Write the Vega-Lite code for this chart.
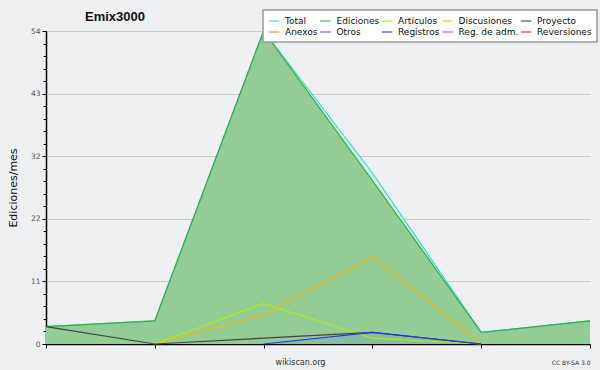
{
  "$schema": "https://vega.github.io/schema/vega-lite/v6.json",
  "autosize": "none",
  "width": 544,
  "height": 313,
  "padding": {"left": 46, "top": 31, "right": 10, "bottom": 26},
  "background": "#eeeff1",
  "title": {"text": "Emix3000", "font": "Liberation Sans", "fontSize": 13, "fontWeight": "bold", "anchor": "start", "frame": "group", "dx": 39, "offset": -15, "color": "#111"},
  "datasets": {
    "d": [
      {"m": 0, "serie": "Total", "v": 3},
      {"m": 1, "serie": "Total", "v": 4},
      {"m": 2, "serie": "Total", "v": 54},
      {"m": 3, "serie": "Total", "v": 29.5},
      {"m": 4, "serie": "Total", "v": 2},
      {"m": 5, "serie": "Total", "v": 4},
      {"m": 0, "serie": "Ediciones", "v": 3},
      {"m": 1, "serie": "Ediciones", "v": 4},
      {"m": 2, "serie": "Ediciones", "v": 54},
      {"m": 3, "serie": "Ediciones", "v": 28.2},
      {"m": 4, "serie": "Ediciones", "v": 2},
      {"m": 5, "serie": "Ediciones", "v": 4},
      {"m": 1, "serie": "Artículos", "v": 0},
      {"m": 2, "serie": "Artículos", "v": 7},
      {"m": 3, "serie": "Artículos", "v": 1},
      {"m": 4, "serie": "Artículos", "v": 0},
      {"m": 1, "serie": "Discusiones", "v": 0},
      {"m": 2, "serie": "Discusiones", "v": 5},
      {"m": 3, "serie": "Discusiones", "v": 15},
      {"m": 4, "serie": "Discusiones", "v": 0},
      {"m": 0, "serie": "Proyecto", "v": 3},
      {"m": 1, "serie": "Proyecto", "v": 0},
      {"m": 2, "serie": "Proyecto", "v": 1},
      {"m": 3, "serie": "Proyecto", "v": 2},
      {"m": 4, "serie": "Proyecto", "v": 0},
      {"m": 2, "serie": "Registros", "v": 0},
      {"m": 3, "serie": "Registros", "v": 2},
      {"m": 4, "serie": "Registros", "v": 0}
    ]
  },
  "resolve": {"axis": {"x": "independent"}},
  "layer": [
    {
      "data": {"name": "d"},
      "transform": [{"filter": "datum.serie === 'Total'"}],
      "mark": {"type": "area", "fill": "#d6f1ea", "opacity": 1},
      "encoding": {
        "x": {"field": "m", "type": "quantitative", "scale": {"domain": [0, 5], "nice": false, "zero": false},
          "axis": {"orient": "bottom", "values": [0, 1, 2, 3, 4, 5], "tickCount": 10, "labels": false, "grid": false, "domainColor": "#000", "domainWidth": 1.5, "tickColor": "#000", "tickSize": 4,
            "title": "wikiscan.org", "titleFont": "DejaVu Sans", "titleFontSize": 8, "titleFontWeight": "normal", "titleColor": "#333", "titleX": 254, "titleY": 20, "titleAlign": "center", "titleBaseline": "alphabetic"}},
        "y": {"field": "v", "type": "quantitative", "scale": {"domain": [0, 54], "nice": false},
          "axis": {
            "values": [0, 2.16, 4.32, 6.48, 8.64, 10.8, 12.96, 15.12, 17.28, 19.44, 21.6, 23.76, 25.92, 28.08, 30.24, 32.4, 34.56, 36.72, 38.88, 41.04, 43.2, 45.36, 47.52, 49.68, 51.84, 54],
            "tickCount": 40,
            "labelExpr": "abs(datum.value/10.8 - round(datum.value/10.8)) < 0.01 ? format(datum.value, '.0f') : ''",
            "labelOverlap": false, "labelFlush": false, "labelFont": "DejaVu Sans", "labelFontSize": 7.5, "labelColor": "#555", "labelPadding": 2,
            "tickColor": "#000", "tickSize": {"condition": {"test": "abs(datum.value/10.8 - round(datum.value/10.8)) < 0.01", "value": 4}, "value": 3},
            "grid": true, "gridColor": "#cccccc", "gridOpacity": {"condition": {"test": "abs(datum.value/10.8 - round(datum.value/10.8)) < 0.01", "value": 1}, "value": 0},
            "domainColor": "#000", "domainWidth": 1.5,
            "title": "Ediciones/mes", "titleFont": "DejaVu Sans", "titleFontSize": 11, "titleFontWeight": "normal", "titleColor": "#111", "titlePadding": 12}}
      }
    },
    {
      "data": {"name": "d"},
      "transform": [{"filter": "datum.serie === 'Ediciones'"}],
      "mark": {"type": "area", "fill": "#94cc96", "opacity": 1},
      "encoding": {
        "x": {"field": "m", "type": "quantitative",
          "axis": {"orient": "bottom", "values": [], "labels": false, "domain": false, "ticks": false, "grid": false,
            "title": "CC BY-SA 3.0", "titleFont": "DejaVu Sans", "titleFontSize": 6, "titleFontWeight": "normal", "titleColor": "#333", "titleX": 544, "titleY": 20, "titleAlign": "right", "titleBaseline": "alphabetic"}},
        "y": {"field": "v", "type": "quantitative"}
      }
    },
    {
      "data": {"name": "d"},
      "transform": [{"filter": "datum.serie === 'Registros'"}],
      "mark": {"type": "area", "fill": "#2233ee", "opacity": 0.1},
      "encoding": {
        "x": {"field": "m", "type": "quantitative", "axis": null},
        "y": {"field": "v", "type": "quantitative"}
      }
    },
    {
      "data": {"name": "d"},
      "transform": [{"filter": "datum.serie === 'Total'"}],
      "mark": {"type": "line", "strokeWidth": 1.2},
      "encoding": {
        "x": {"field": "m", "type": "quantitative", "axis": null},
        "y": {"field": "v", "type": "quantitative"},
        "color": {"field": "serie", "type": "nominal"}
      }
    },
    {
      "data": {"name": "d"},
      "transform": [{"filter": "datum.serie !== 'Total'"}],
      "mark": {"type": "line", "strokeWidth": 1.2},
      "encoding": {
        "x": {"field": "m", "type": "quantitative", "axis": null},
        "y": {"field": "v", "type": "quantitative"},
        "color": {"field": "serie", "type": "nominal",
          "scale": {"domain": ["Total", "Ediciones", "Artículos", "Discusiones", "Proyecto", "Anexos", "Otros", "Registros", "Reg. de adm.", "Reversiones"],
            "range": ["#3fd4d8", "#33b044", "#aaee11", "#f0bb10", "#444444", "#ff7733", "#8833dd", "#2233ee", "#dd33ee", "#ee2222"]},
          "legend": {"orient": "none", "legendX": 217, "legendY": -21, "columns": 5, "direction": "horizontal", "title": null,
            "symbolType": "stroke", "symbolSize": 110, "symbolStrokeWidth": 1.5, "symbolOpacity": 0.7,
            "labelFont": "DejaVu Sans", "labelFontSize": 9, "labelColor": "#111", "labelOffset": 5,
            "columnPadding": -1.5, "rowPadding": 0, "padding": 5, "fillColor": "#ffffff", "strokeColor": "#999999",
            "encode": {"legend": {"update": {"strokeWidth": {"value": 1.5}}}}}}
      }
    }
  ],
  "config": {"view": {"stroke": null}}
}
